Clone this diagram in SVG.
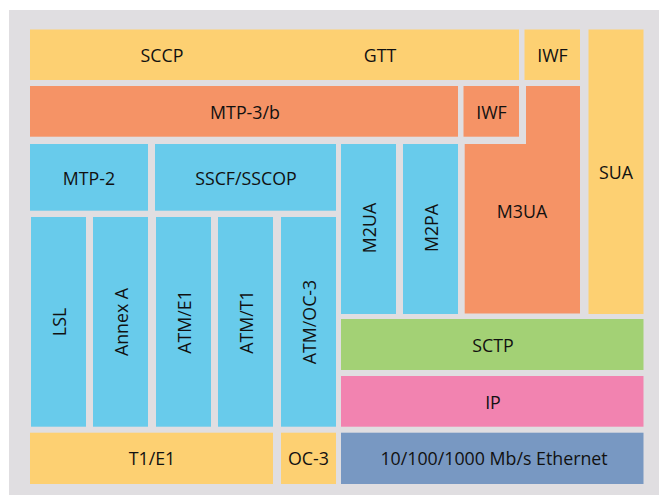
<svg xmlns="http://www.w3.org/2000/svg" width="660" height="495" viewBox="0 0 660 495">
<style>
text{font-family:"Open Sans","Noto Sans","Liberation Sans",sans-serif;font-size:17.8px;fill:#111;text-anchor:middle;dominant-baseline:central}
.y{fill:#FDD072}.o{fill:#F59366}.b{fill:#68CBEB}.g{fill:#A3D175}.p{fill:#F283B0}.s{fill:#7898C2}
</style>
<rect x="9" y="10" width="650" height="485" fill="#E0DEE1"/>
<g id="sccp"><rect class="y" x="30" y="29.5" width="489" height="50.5"/><text x="162" y="55">SCCP</text><text x="380" y="55">GTT</text></g>
<g id="iwf1"><rect class="y" x="524.5" y="29.5" width="55.5" height="50.5"/><text x="552.5" y="55">IWF</text></g>
<g id="sua"><rect class="y" x="588.5" y="29.5" width="55" height="284.5"/><text x="616" y="172">SUA</text></g>
<g id="mtp3"><rect class="o" x="30" y="86" width="428" height="50.7"/><text x="245" y="112">MTP-3/b</text></g>
<g id="iwf2"><rect class="o" x="463.5" y="86" width="55.5" height="50.7"/><text x="491.5" y="112">IWF</text></g>
<g id="m3ua"><path class="o" d="M526 86H580V313.5H464.7V144H526Z"/><text x="522" y="211">M3UA</text></g>
<g id="mtp2"><rect class="b" x="30" y="144" width="118" height="66.7"/><text x="89" y="178">MTP-2</text></g>
<g id="sscf"><rect class="b" x="155" y="144" width="181" height="66.7"/><text x="246" y="178">SSCF/SSCOP</text></g>
<g id="m2ua"><rect class="b" x="341" y="144" width="55" height="170"/><text transform="translate(369,228) rotate(-90)">M2UA</text></g>
<g id="m2pa"><rect class="b" x="403" y="144" width="55" height="170"/><text transform="translate(431,228) rotate(-90)">M2PA</text></g>
<g id="lsl"><rect class="b" x="31" y="217" width="55" height="209.7"/><text transform="translate(59,322) rotate(-90)">LSL</text></g>
<g id="annexa"><rect class="b" x="93" y="217" width="55" height="209.7"/><text transform="translate(121,322) rotate(-90)">Annex A</text></g>
<g id="atme1"><rect class="b" x="156" y="217" width="55" height="209.7"/><text transform="translate(183.5,322) rotate(-90)">ATM/E1</text></g>
<g id="atmt1"><rect class="b" x="218" y="217" width="55" height="209.7"/><text transform="translate(246,322) rotate(-90)">ATM/T1</text></g>
<g id="atmoc3"><rect class="b" x="281" y="217" width="55" height="209.7"/><text transform="translate(309,322) rotate(-90)">ATM/OC-3</text></g>
<g id="t1e1"><rect class="y" x="30" y="432.7" width="243" height="51.3"/><text x="152" y="458">T1/E1</text></g>
<g id="oc3"><rect class="y" x="281" y="432.7" width="55" height="51.3"/><text x="308.5" y="458">OC-3</text></g>
<g id="sctp"><rect class="g" x="341" y="319" width="302.5" height="51"/><text x="493" y="345">SCTP</text></g>
<g id="ip"><rect class="p" x="341" y="376" width="302.5" height="50.7"/><text x="493" y="402">IP</text></g>
<g id="eth"><rect class="s" x="341" y="432.7" width="302.5" height="51.3"/><text x="494" y="458">10/100/1000 Mb/s Ethernet</text></g>
<g id="connectors"/>
</svg>
